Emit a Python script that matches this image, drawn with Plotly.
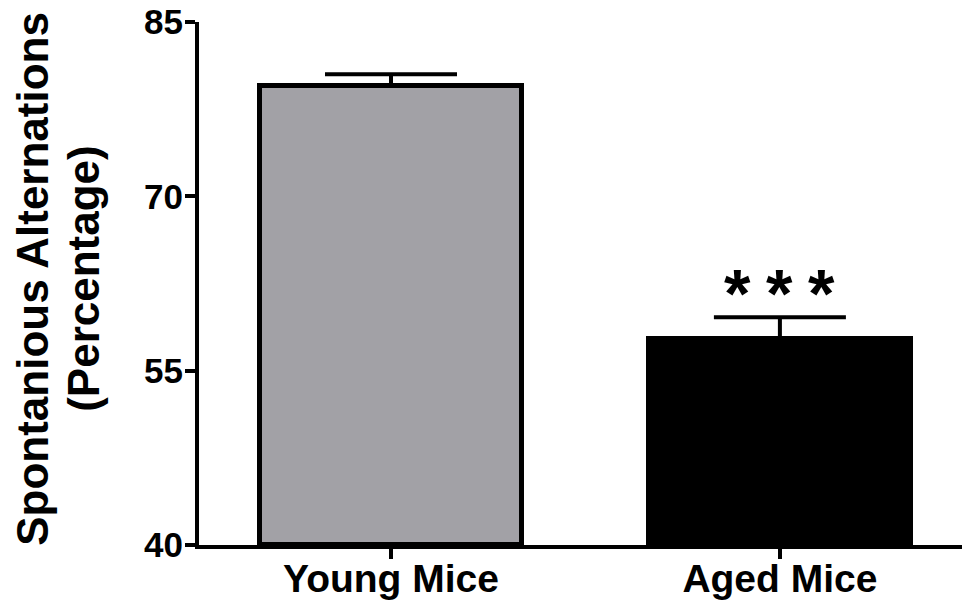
import plotly.graph_objects as go

categories = ["Young Mice", "Aged Mice"]
means = [79.5, 57.7]
sem = [1.0, 1.9]
bar_colors = ["#a2a1a6", "#000000"]
y_ticks = [40, 55, 70, 85]
title_lines = ["Spontanious Alternations", "(Percentage)"]
sig_label = "*"

FONT = "Liberation Sans, Arial, sans-serif"

# the page body adds an 8px offset, so the figure is drawn 8px smaller
W, H = 962, 598
ML, MT, MB, MR = 191, 14, 61, 0

fig = go.Figure()
fig.add_trace(go.Bar(
    x=categories, y=[m - 40 for m in means], base=40,
    width=0.6735,
    marker=dict(color=bar_colors, line=dict(color="black", width=5)),
    error_y=dict(type="data", symmetric=False, array=sem, arrayminus=[0, 0],
                 color="black", thickness=4, width=66),
    showlegend=False,
))

# significance stars above aged bar
for dx in (-42, 0, 42):
    fig.add_annotation(
        x=categories[1], y=means[1] + sem[1], xref="x", yref="y",
        text=sig_label, showarrow=False, xshift=dx, yshift=24,
        yanchor="middle", xanchor="center",
        font=dict(family=FONT, size=68, color="black", weight="bold"),
    )

# y-axis title as two rotated lines (positions given in page pixels)
pw = W - ML - MR
for xpx, line in zip((33, 84), title_lines):
    fig.add_annotation(
        x=(xpx - 8 - ML) / pw, y=0.509, xref="paper", yref="paper",
        xanchor="center", yanchor="middle", showarrow=False,
        text=line, textangle=-90,
        font=dict(family=FONT, size=44, color="black", weight="bold"),
    )

fig.update_layout(
    width=W, height=H,
    margin=dict(l=ML, r=MR, t=MT, b=MB, autoexpand=False),
    paper_bgcolor="white", plot_bgcolor="white",
    bargap=0,
)
fig.update_yaxes(
    range=[40, 85], tickvals=y_ticks, ticktext=[str(v) for v in y_ticks],
    showgrid=False, zeroline=False,
    showline=True, linecolor="black", linewidth=4,
    ticks="outside", ticklen=10, tickwidth=4, tickcolor="black",
    ticklabelstandoff=-5, ticklabeloverflow="allow",
    tickfont=dict(family=FONT, size=35, color="black", weight="bold"),
)
fig.update_xaxes(
    range=[-0.4937, 1.4888],
    showgrid=False, zeroline=False,
    showline=True, linecolor="black", linewidth=4,
    ticks="outside", ticklen=10, tickwidth=4, tickcolor="black",
    ticklabelstandoff=-14, ticklabeloverflow="allow",
    tickfont=dict(family=FONT, size=39, color="black", weight="bold"),
)

fig.write_html("out.html")
